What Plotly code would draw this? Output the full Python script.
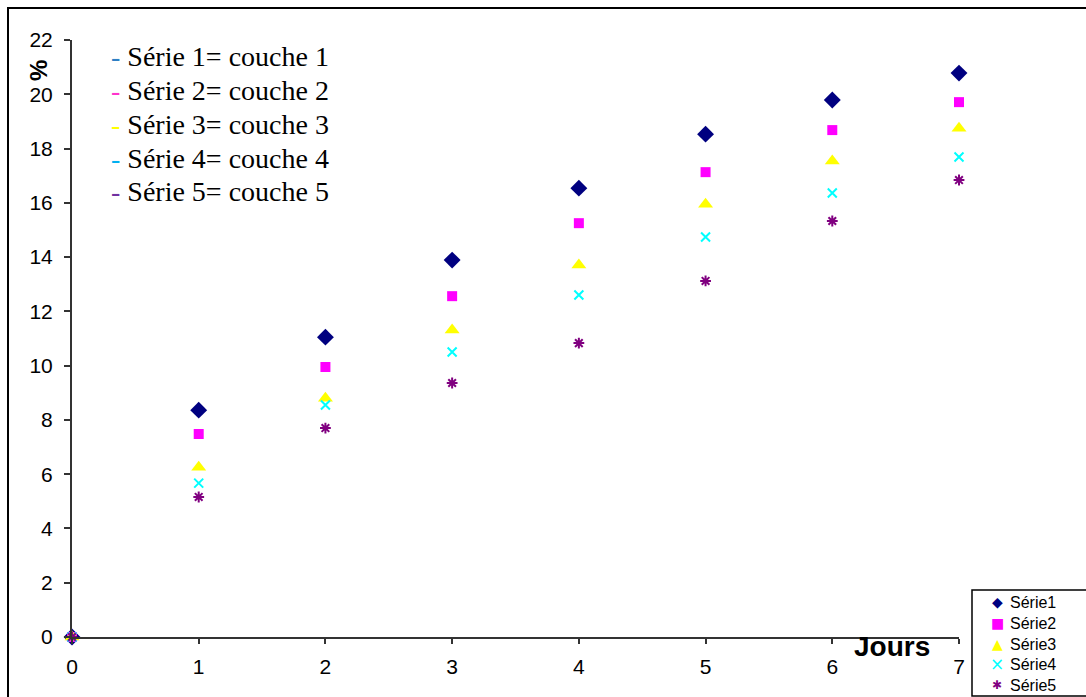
import plotly.graph_objects as go

# Days of measurement
jours = [0, 1, 2, 3, 4, 5, 6, 7]

# Percentage per layer (couche)
serie1 = [0, 8.36, 11.05, 13.89, 16.54, 18.53, 19.79, 20.78]
serie2 = [0, 7.48, 9.95, 12.56, 15.25, 17.13, 18.68, 19.71]
serie3 = [0, 6.26, 8.80, 11.31, 13.71, 15.95, 17.54, 18.75]
serie4 = [0, 5.67, 8.55, 10.50, 12.60, 14.74, 16.36, 17.69]
serie5 = [0, 5.16, 7.70, 9.36, 10.83, 13.12, 15.33, 16.84]

series_names = ["Série1", "Série2", "Série3", "Série4", "Série5"]
series_vals = [serie1, serie2, serie3, serie4, serie5]

x_ticks = [0, 1, 2, 3, 4, 5, 6, 7]
y_ticks = [0, 2, 4, 6, 8, 10, 12, 14, 16, 18, 20, 22]

note_lines = ["Série 1= couche 1", "Série 2= couche 2", "Série 3= couche 3",
              "Série 4= couche 4", "Série 5= couche 5"]
note_dash_colors = ["#2e7fc4", "#ff33cc", "#ffff00", "#00b0f0", "#7030a0"]

series_colors = ["#000080", "#ff00ff", "#ffff00", "#00ffff", "#800080"]
marker_styles = [
    dict(symbol="diamond", size=13, color=series_colors[0]),
    dict(symbol="square", size=10, color=series_colors[1]),
    dict(symbol="triangle-up", size=13, color=series_colors[2]),
    dict(symbol="x-thin-open", size=9, color=series_colors[3],
         line=dict(width=2, color=series_colors[3])),
    dict(symbol="asterisk-open", size=9, color=series_colors[4],
         line=dict(width=2, color=series_colors[4])),
]
# Glyphs used for the key box
key_glyphs = ["◆", "■", "▲", "×", "✱"]
key_glyph_sizes = [14, 14, 14, 17, 12]

fig = go.Figure()
for name, vals, mk in zip(series_names, series_vals, marker_styles):
    fig.add_trace(go.Scatter(x=jours, y=vals, mode="markers", name=name,
                             marker=mk, cliponaxis=False, showlegend=False))

W, H = 1086, 697
ml, mr, mt, mb = 72, 127, 40, 60
pw, ph = W - ml - mr, H - mt - mb


def px_x(p):
    return (p - ml) / pw


def px_y(p):
    return (H - mb - p) / ph


fig.update_layout(
    width=W, height=H,
    margin=dict(l=ml, r=mr, t=mt, b=mb, pad=0, autoexpand=False),
    paper_bgcolor="white", plot_bgcolor="white",
    font=dict(family="Liberation Sans, Arial", color="black"),
    showlegend=False,
    xaxis=dict(range=[0, 7], tickvals=x_ticks, showgrid=False, zeroline=False,
               showline=True, linecolor="#333333", linewidth=2,
               ticks="outside", ticklen=5, tickwidth=2, tickcolor="#333333",
               ticklabelstandoff=5,
               tickfont=dict(size=21, family="Liberation Sans, Arial")),
    yaxis=dict(range=[0, 22], tickvals=y_ticks, showgrid=False, zeroline=False,
               showline=True, linecolor="#333333", linewidth=2,
               ticks="outside", ticklen=6, tickwidth=2, tickcolor="#333333",
               ticklabelstandoff=7,
               tickfont=dict(size=21, family="Liberation Sans, Arial")),
)

# Outer chart frame
fig.add_shape(type="rect", xref="paper", yref="paper",
              x0=px_x(8), x1=px_x(1100), y0=px_y(8), y1=px_y(710),
              line=dict(color="black", width=2), fillcolor="rgba(0,0,0,0)",
              layer="below")

# Key box at the bottom right
fig.add_shape(type="rect", xref="paper", yref="paper",
              x0=px_x(972), x1=px_x(1100), y0=px_y(590), y1=px_y(696),
              line=dict(color="black", width=1.5), fillcolor="white")
key_font = 16
key_center = 643.5
key_step = key_font * 1.3
key_rows = [key_center + (i - 2) * key_step for i in range(5)]
for col, g, gs, ry in zip(series_colors, key_glyphs, key_glyph_sizes, key_rows):
    fig.add_annotation(text=g, xref="paper", yref="paper",
                       x=px_x(997), y=px_y(ry), xanchor="center", yanchor="middle",
                       showarrow=False,
                       font=dict(size=gs, color=col, family="DejaVu Sans"))
fig.add_annotation(text="<br>".join(series_names), xref="paper", yref="paper",
                   x=px_x(1008), y=px_y(key_center),
                   xanchor="left", yanchor="middle", align="left",
                   showarrow=False,
                   font=dict(size=key_font, family="Liberation Sans, Arial"))

# Axis titles
fig.add_annotation(text="<b>%</b>", xref="paper", yref="paper",
                   x=px_x(38), y=px_y(71), xanchor="center", yanchor="middle",
                   showarrow=False, textangle=-90,
                   font=dict(size=24, family="Liberation Sans, Arial"))
fig.add_annotation(text="<b>Jours</b>", xref="paper", yref="paper",
                   x=px_x(892), y=px_y(646), xanchor="center", yanchor="middle",
                   showarrow=False,
                   font=dict(size=28, family="Liberation Sans, Arial"))

# Layer notes
for i, (line, col) in enumerate(zip(note_lines, note_dash_colors)):
    fig.add_annotation(
        text=f"<span style='color:{col}'>-</span> {line}",
        xref="paper", yref="paper", x=px_x(109), y=px_y(57 + i * 33.7),
        xanchor="left", yanchor="middle", showarrow=False,
        font=dict(size=28, family="Liberation Serif, Times New Roman"))

fig.write_html("out.html")
